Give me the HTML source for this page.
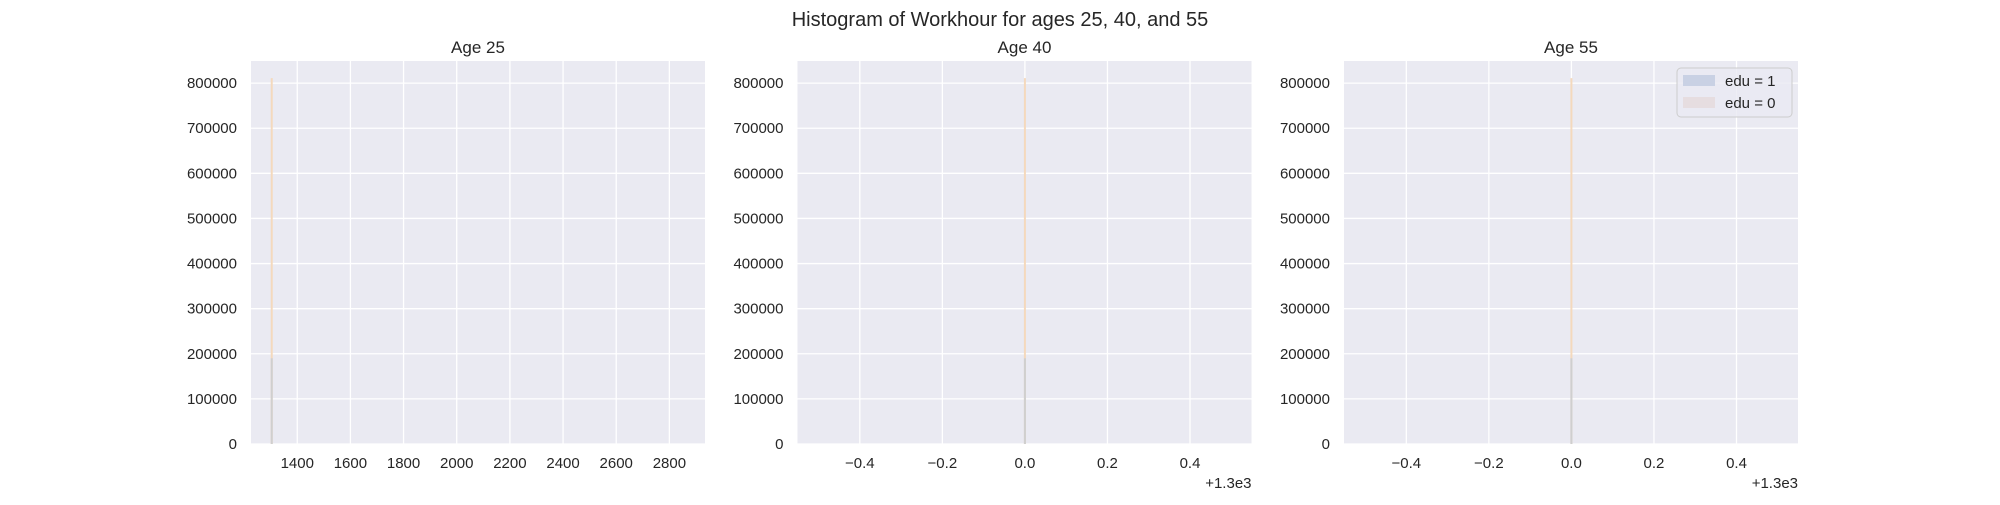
<!DOCTYPE html>
<html><head><meta charset="utf-8"><style>
body{margin:0;background:#fff;}
svg text{font-family:"Liberation Sans","DejaVu Sans",sans-serif;fill:#262626;}
</style></head><body>
<svg id="chart" width="2000" height="500" xmlns="http://www.w3.org/2000/svg">
<text x="1000" y="26" font-size="20" text-anchor="middle">Histogram of Workhour for ages 25, 40, and 55</text>
</svg>
<script>
const panelTitles=["Age 25","Age 40","Age 55"];
const yTicks=[0,100000,200000,300000,400000,500000,600000,700000,800000];
const xTicks1=[1400,1600,1800,2000,2200,2400,2600,2800];
const xTicks23=[-0.4,-0.2,0.0,0.2,0.4];
const binCenters=[1304,1300,1300];
const edu1Counts=[190000,190000,190000];
const edu0Counts=[811000,811000,811000];
const NS="http://www.w3.org/2000/svg";
const svg=document.getElementById('chart');
function mk(t,a,p){const e=document.createElementNS(NS,t);for(const k in a)e.setAttribute(k,a[k]);(p||svg).appendChild(e);return e;}
const topY=61,botY=444,W=454,lefts=[251,797.5,1344];
const yMax=849000;
const ys=v=>botY-(v/yMax)*(botY-topY);
for(let i=0;i<3;i++){
  const L=lefts[i];
  let xmin,xmax,ticks,off;
  if(i===0){xmin=1226;xmax=2934;ticks=xTicks1;off=0;}
  else{xmin=-0.551;xmax=0.549;ticks=xTicks23;off=1300;}
  const xs=v=>L+(v-xmin)/(xmax-xmin)*W;
  const g=mk('g',{});
  
  
  const bg=mk('rect',{x:L,y:topY,width:W,height:botY-topY,fill:'#eaeaf2'},g);
  
  
  yTicks.forEach(v=>{
    const ln=mk('line',{x1:L,x2:L+W,y1:ys(v),y2:ys(v),stroke:'#fff','stroke-width':1.3},g);
    
    
    const t=mk('text',{x:L-14,y:ys(v)+5,'font-size':15,'text-anchor':'end'},g);
    
    
    t.textContent=v;
  });
  ticks.forEach(v=>{
    const ln=mk('line',{x1:xs(v),x2:xs(v),y1:topY,y2:botY,stroke:'#fff','stroke-width':1.3},g);
    
    
    const t=mk('text',{x:xs(v),y:botY+24,'font-size':15,'text-anchor':'middle'},g);
    
    
    t.textContent=i===0?v:(v<0?'\u2212'+Math.abs(v).toFixed(1):v.toFixed(1));
  });
  const c=binCenters[i]-off;
  const b0=mk('rect',{x:xs(c)-1,y:ys(edu0Counts[i]),width:2,height:botY-ys(edu0Counts[i]),fill:'#f4d9bd'},g);
  
  
  const b1=mk('rect',{x:xs(c)-1,y:ys(edu1Counts[i]),width:2,height:botY-ys(edu1Counts[i]),fill:'#cfcfcf'},g);
  
  
  const tt=mk('text',{x:L+W/2,y:topY-8,'font-size':17,'text-anchor':'middle'},g);
  
  
  tt.textContent=panelTitles[i];
  if(i>0){
    const o=mk('text',{x:L+W,y:botY+44,'font-size':15,'text-anchor':'end'},g);
    
    
    o.textContent='+1.3e3';
  }
}
const lg=mk('g',{});


mk('rect',{x:1677,y:68,width:115,height:49,rx:4,fill:'#eaeaf2','fill-opacity':0.8,stroke:'#cccccc'},lg);
const e1=mk('rect',{x:1683,y:75,width:32,height:11,fill:'#c9d1e4'},lg);


const e0=mk('rect',{x:1683,y:97,width:32,height:11,fill:'#e6dde0'},lg);


const t1=mk('text',{x:1725,y:86,'font-size':15},lg);t1.textContent='edu = 1';


const t0=mk('text',{x:1725,y:108,'font-size':15},lg);t0.textContent='edu = 0';


</script>
</body></html>
